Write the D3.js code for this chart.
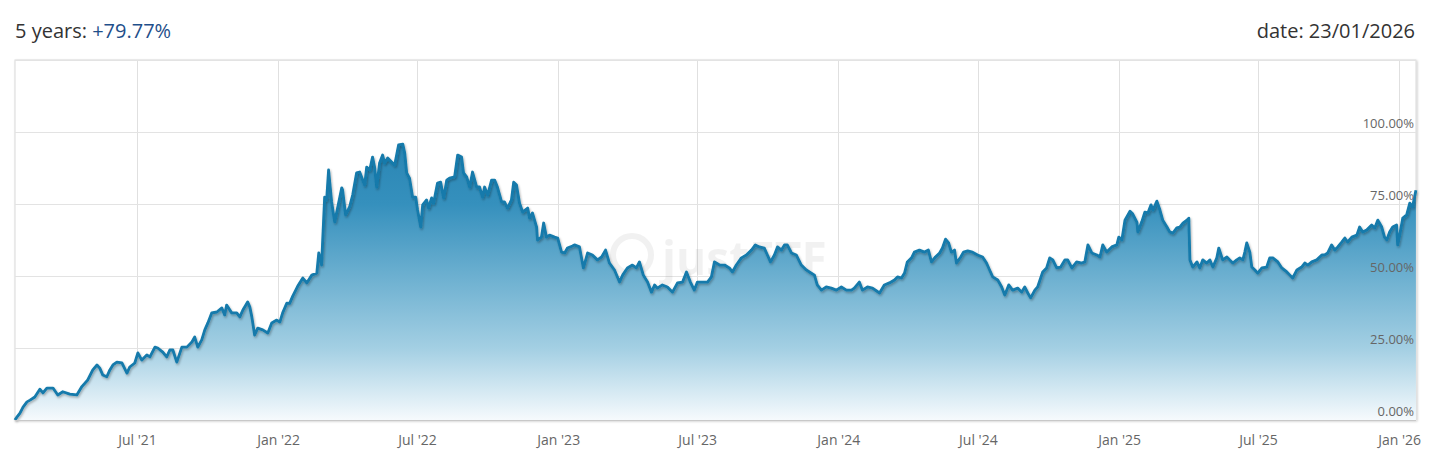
<!DOCTYPE html>
<html>
<head>
<meta charset="utf-8">
<script src="https://cdn.jsdelivr.net/npm/d3@7"></script>
<style>
  html, body { margin: 0; padding: 0; background: #fff; }
  svg { display: block; font-family: "Open Sans", sans-serif; }
</style>
</head>
<body>
<svg id="chart" width="1440" height="462"></svg>
<script>
// ---- DATA (dates as decimal years, values in % return) ----
const titleLabel = "5 years: ";
const titleValue = "+79.77%";
const dateLabel = "date: 23/01/2026";
const startDate = "2021-01-23";
const endDate = "2026-01-23";
const yTicks = [0, 25, 50, 75, 100];
const yMax = 125;
const xTickMonths = ["2021-07-01","2022-01-01","2022-07-01","2023-01-01","2023-07-01","2024-01-01","2024-07-01","2025-01-01","2025-07-01","2026-01-01"];

const dates = [
2021.060,2021.067,2021.078,2021.089,2021.103,2021.114,2021.131,2021.149,2021.160,2021.174,
2021.196,2021.213,2021.231,2021.256,2021.281,2021.299,2021.320,2021.338,2021.353,2021.363,
2021.374,2021.388,2021.399,2021.410,2021.424,2021.442,2021.460,2021.470,2021.488,2021.499,
2021.513,2021.531,2021.542,2021.560,2021.570,2021.588,2021.602,2021.613,2021.624,2021.638,
2021.656,2021.674,2021.692,2021.702,2021.713,2021.727,2021.738,2021.749,2021.763,2021.781,
2021.799,2021.809,2021.816,2021.834,2021.852,2021.863,2021.874,2021.891,2021.899,2021.906,
2021.916,2021.927,2021.945,2021.963,2021.977,2021.995,2022.006,2022.016,2022.031,2022.041,
2022.052,2022.070,2022.088,2022.102,2022.120,2022.138,2022.145,2022.155,2022.159,2022.166,
2022.173,2022.180,2022.191,2022.202,2022.213,2022.227,2022.230,2022.241,2022.255,2022.266,
2022.280,2022.291,2022.309,2022.316,2022.327,2022.337,2022.345,2022.352,2022.362,2022.373,
2022.380,2022.391,2022.405,2022.416,2022.423,2022.430,2022.445,2022.452,2022.459,2022.469,
2022.480,2022.491,2022.498,2022.509,2022.516,2022.530,2022.537,2022.548,2022.555,2022.569,
2022.580,2022.591,2022.602,2022.612,2022.630,2022.641,2022.655,2022.662,2022.673,2022.684,
2022.694,2022.709,2022.719,2022.730,2022.737,2022.748,2022.762,2022.773,2022.783,2022.798,
2022.808,2022.819,2022.833,2022.841,2022.851,2022.862,2022.873,2022.891,2022.898,2022.908,
2022.923,2022.926,2022.940,2022.948,2022.958,2022.969,2022.987,2022.998,2023.012,2023.023,
2023.033,2023.051,2023.058,2023.076,2023.090,2023.105,2023.122,2023.140,2023.155,2023.169,
2023.183,2023.201,2023.219,2023.230,2023.247,2023.265,2023.279,2023.290,2023.304,2023.319,
2023.333,2023.344,2023.354,2023.372,2023.390,2023.408,2023.426,2023.444,2023.458,2023.472,
2023.486,2023.497,2023.515,2023.533,2023.547,2023.558,2023.576,2023.594,2023.611,2023.622,
2023.636,2023.654,2023.672,2023.690,2023.704,2023.718,2023.736,2023.747,2023.758,2023.772,
2023.783,2023.797,2023.808,2023.818,2023.833,2023.850,2023.868,2023.886,2023.897,2023.915,
2023.925,2023.940,2023.957,2023.975,2023.993,2024.011,2024.029,2024.047,2024.057,2024.075,
2024.086,2024.104,2024.122,2024.147,2024.164,2024.182,2024.200,2024.211,2024.225,2024.236,
2024.246,2024.261,2024.271,2024.289,2024.307,2024.321,2024.332,2024.346,2024.361,2024.371,
2024.382,2024.393,2024.403,2024.414,2024.421,2024.436,2024.446,2024.461,2024.478,2024.496,
2024.514,2024.528,2024.539,2024.550,2024.568,2024.582,2024.593,2024.607,2024.621,2024.639,
2024.653,2024.664,2024.675,2024.685,2024.700,2024.710,2024.728,2024.742,2024.753,2024.764,
2024.778,2024.792,2024.807,2024.817,2024.832,2024.849,2024.867,2024.878,2024.889,2024.903,
2024.921,2024.932,2024.942,2024.956,2024.974,2024.992,2024.999,2025.010,2025.021,2025.039,
2025.049,2025.064,2025.067,2025.081,2025.092,2025.103,2025.114,2025.121,2025.135,2025.146,
2025.156,2025.171,2025.181,2025.192,2025.206,2025.217,2025.228,2025.242,2025.249,2025.253,
2025.263,2025.278,2025.288,2025.299,2025.313,2025.324,2025.335,2025.349,2025.356,2025.370,
2025.385,2025.395,2025.406,2025.420,2025.431,2025.442,2025.449,2025.456,2025.467,2025.474,
2025.485,2025.495,2025.510,2025.527,2025.538,2025.549,2025.567,2025.581,2025.599,2025.610,
2025.620,2025.635,2025.652,2025.663,2025.674,2025.688,2025.706,2025.724,2025.734,2025.745,
2025.759,2025.770,2025.781,2025.795,2025.806,2025.816,2025.831,2025.849,2025.859,2025.870,
2025.884,2025.902,2025.913,2025.924,2025.938,2025.948,2025.956,2025.966,2025.977,2025.991,
2025.995,2026.002,2026.013,2026.027,2026.038,2026.048,2026.060
];

const values = [
0.0,1.0,2.4,4.5,6.3,6.9,8.0,10.7,9.4,11.1,
11.1,8.7,9.8,9.0,8.7,11.6,13.9,17.4,19.1,18.0,
15.6,15.0,17.4,19.1,20.1,19.8,16.3,18.4,19.8,23.3,
20.8,22.6,21.9,25.3,25.0,23.6,21.9,24.3,24.3,20.1,
25.3,25.3,27.1,28.8,25.3,27.8,31.3,33.7,37.2,37.5,
38.9,36.5,39.9,37.2,37.2,35.8,38.2,41.0,39.2,35.8,
29.5,31.9,31.3,30.2,33.7,34.7,34.0,37.2,40.6,40.5,
43.0,46.5,49.3,47.6,50.3,51.0,58.0,53.8,62.5,77.4,
76.4,86.8,75.7,68.8,74.0,80.6,79.9,71.2,74.0,78.1,
85.8,86.1,81.6,87.8,86.8,91.3,87.5,80.9,89.2,92.0,
89.2,91.0,89.6,88.5,92.0,95.5,95.8,92.7,85.8,84.0,
77.4,77.4,72.9,67.0,74.7,76.4,73.6,77.1,75.3,82.3,
82.6,77.1,83.3,84.0,84.4,92.0,91.3,85.8,84.4,80.9,
86.1,80.9,80.9,77.4,80.9,78.1,83.3,83.3,80.9,75.7,
75.7,73.6,76.4,82.6,81.6,75.3,72.2,73.6,70.1,71.9,
67.0,62.5,63.5,68.4,63.5,64.2,63.5,63.2,58.3,58.0,
59.7,60.4,60.8,60.1,52.8,58.0,57.3,55.6,56.6,59.0,
54.5,52.1,47.9,50.3,52.8,53.8,52.8,54.9,50.3,47.9,
44.4,46.9,45.8,46.9,46.2,44.4,47.6,47.9,51.4,47.9,
45.1,47.9,47.9,47.9,49.7,54.9,53.8,53.8,52.8,51.4,
53.8,56.3,57.3,59.0,60.8,60.1,59.7,57.3,54.9,57.3,
60.1,59.0,60.8,60.8,58.0,57.3,53.8,52.1,51.4,50.3,
46.9,45.1,46.2,45.8,45.1,46.2,45.1,45.1,45.8,47.9,
45.1,46.2,45.8,44.1,46.9,47.6,48.6,49.7,49.3,51.0,
54.9,56.3,58.3,59.0,58.3,59.0,54.9,56.6,58.0,59.7,
62.8,61.5,58.3,59.0,54.5,56.6,58.3,58.7,58.3,57.3,
56.6,54.5,52.1,49.7,48.6,46.2,43.4,46.9,45.1,45.8,
44.4,46.2,44.1,42.4,45.1,46.2,51.4,52.8,56.3,55.6,
52.8,53.1,55.6,55.6,52.8,54.9,54.5,54.9,60.8,58.0,
57.3,56.6,60.8,58.3,60.1,60.8,63.5,62.5,69.4,72.5,
71.5,68.6,65.3,68.8,72.2,71.9,74.7,72.9,76.0,72.9,
69.4,67.0,65.3,64.9,66.7,67.0,68.4,69.4,70.1,55.6,
53.1,54.9,52.8,55.6,54.5,55.6,53.1,56.3,59.7,55.6,
56.6,55.6,54.5,55.6,56.3,55.6,58.3,61.5,58.3,53.1,
52.1,51.0,52.8,53.1,56.3,56.3,54.9,52.8,51.4,50.3,
49.3,52.1,53.1,54.5,53.8,54.9,55.6,57.3,57.3,58.0,
60.8,59.0,60.1,61.8,63.2,61.8,63.5,64.2,67.0,65.3,
66.0,67.7,66.7,69.4,67.0,63.5,62.5,65.3,67.0,67.7,
60.8,64.2,70.1,71.2,75.3,74.0,79.77
];

// ---- helpers ----
function decYearToDate(d) {
  const y = Math.floor(d);
  const a = Date.UTC(y, 0, 1), b = Date.UTC(y + 1, 0, 1);
  return new Date(a + (d - y) * (b - a));
}
const series = dates.map((d, i) => ({ date: decYearToDate(d), value: values[i] }));

// ---- layout ----
const svg = d3.select("#chart");
const plot = { left: 15, right: 1416, top: 60, bottom: 420 };

const x = d3.scaleUtc()
  .domain([new Date(startDate + "T00:00:00Z"), new Date(endDate + "T00:00:00Z")])
  .range([plot.left, plot.right]);
const y = d3.scaleLinear().domain([0, yMax]).range([plot.bottom, plot.top]);

const defs = svg.append("defs");
const grad = defs.append("linearGradient")
  .attr("id", "areaGrad").attr("gradientUnits", "userSpaceOnUse")
  .attr("x1", 0).attr("x2", 0).attr("y1", plot.top).attr("y2", plot.bottom);
[[0, "#1a77a7"], [0.4, "#3590bd"], [0.8, "#a3cfe3"], [1, "#f6fafd"]].forEach(([o, c]) =>
  grad.append("stop").attr("offset", o).attr("stop-color", c));

const sh = defs.append("filter").attr("id", "shadow")
  .attr("x", "-5%").attr("y", "-5%").attr("width", "110%").attr("height", "120%");
sh.append("feDropShadow").attr("dx", 1).attr("dy", 1.5).attr("stdDeviation", 1)
  .attr("flood-color", "#000").attr("flood-opacity", 0.3);

const boxShadow = defs.append("filter").attr("id", "boxShadow")
  .attr("x", "-2%").attr("y", "-2%").attr("width", "104%").attr("height", "104%");
boxShadow.append("feDropShadow").attr("dx", 1).attr("dy", 1).attr("stdDeviation", 0.8)
  .attr("flood-color", "#000").attr("flood-opacity", 0.2);

// plot background with border
svg.append("rect")
  .attr("x", plot.left).attr("y", plot.top)
  .attr("width", plot.right - plot.left).attr("height", plot.bottom - plot.top)
  .attr("fill", "#fff").attr("stroke", "#d9d9d9").attr("stroke-width", 1)
  .attr("filter", "url(#boxShadow)");

// grid
const grid = svg.append("g");
grid.selectAll("line.v").data(xTickMonths.map(s => new Date(s + "T00:00:00Z")))
  .join("line")
  .attr("x1", d => Math.round(x(d)) + 0.5).attr("x2", d => Math.round(x(d)) + 0.5)
  .attr("y1", plot.top).attr("y2", plot.bottom)
  .attr("stroke", "#e0e0e0").attr("stroke-width", 1);
grid.selectAll("line.h").data(yTicks.concat([yMax]))
  .join("line")
  .attr("x1", plot.left).attr("x2", plot.right)
  .attr("y1", d => Math.round(y(d)) + 0.5).attr("y2", d => Math.round(y(d)) + 0.5)
  .attr("stroke", "#e3e3e3").attr("stroke-width", 1);

// watermark
const wm = svg.append("g").attr("opacity", 0.08);
wm.append("circle").attr("cx", 632).attr("cy", 255).attr("r", 19)
  .attr("fill", "none").attr("stroke", "#555").attr("stroke-width", 6);
wm.append("text").attr("x", 662).attr("y", 275)
  .attr("font-size", 46).attr("font-weight", 700).attr("fill", "#555")
  .attr("font-family", "'Open Sans', sans-serif").text("justETF");

// area + line
const area = d3.area().x(d => x(d.date)).y0(plot.bottom).y1(d => y(d.value));
const line = d3.line().x(d => x(d.date)).y(d => y(d.value));
svg.append("path").datum(series).attr("d", area).attr("fill", "url(#areaGrad)");
svg.append("path").datum(series).attr("d", line)
  .attr("fill", "none").attr("stroke", "#137aab").attr("stroke-width", 2.8)
  .attr("stroke-linejoin", "round").attr("filter", "url(#shadow)");

// bottom axis line
svg.append("line").attr("x1", plot.left).attr("x2", plot.right)
  .attr("y1", plot.bottom + 0.5).attr("y2", plot.bottom + 0.5)
  .attr("stroke", "#c8c8c8").attr("stroke-width", 1);

// y labels (inside, right)
svg.append("g").selectAll("text").data(yTicks).join("text")
  .attr("x", plot.right - 2).attr("y", d => y(d) - 4)
  .attr("text-anchor", "end").attr("font-size", 13).attr("fill", "#666")
  .text(d => d3.format(".2f")(d) + "%");

// x axis labels
const fmtMonth = d3.utcFormat("%b");
const fmtYear = d3.utcFormat("%y");
const xAxis = d3.axisBottom(x)
  .tickValues(xTickMonths.map(s => new Date(s + "T00:00:00Z")))
  .tickFormat(d => fmtMonth(d) + " '" + fmtYear(d))
  .tickSize(0).tickPadding(15);
const gx = svg.append("g").attr("transform", `translate(0,${plot.bottom})`).call(xAxis);
gx.select(".domain").remove();
gx.selectAll("text").attr("font-size", 14).attr("fill", "#666")
  .attr("font-family", "'Open Sans', sans-serif");

// header
const t = svg.append("text").attr("x", 15).attr("y", 38)
  .attr("font-size", 20).attr("fill", "#333");
t.append("tspan").text(titleLabel);
t.append("tspan").attr("fill", "#1f4f8a").text(titleValue);
svg.append("text").attr("x", 1415).attr("y", 38).attr("text-anchor", "end")
  .attr("font-size", 20).attr("fill", "#333").text(dateLabel);
</script>
</body>
</html>
